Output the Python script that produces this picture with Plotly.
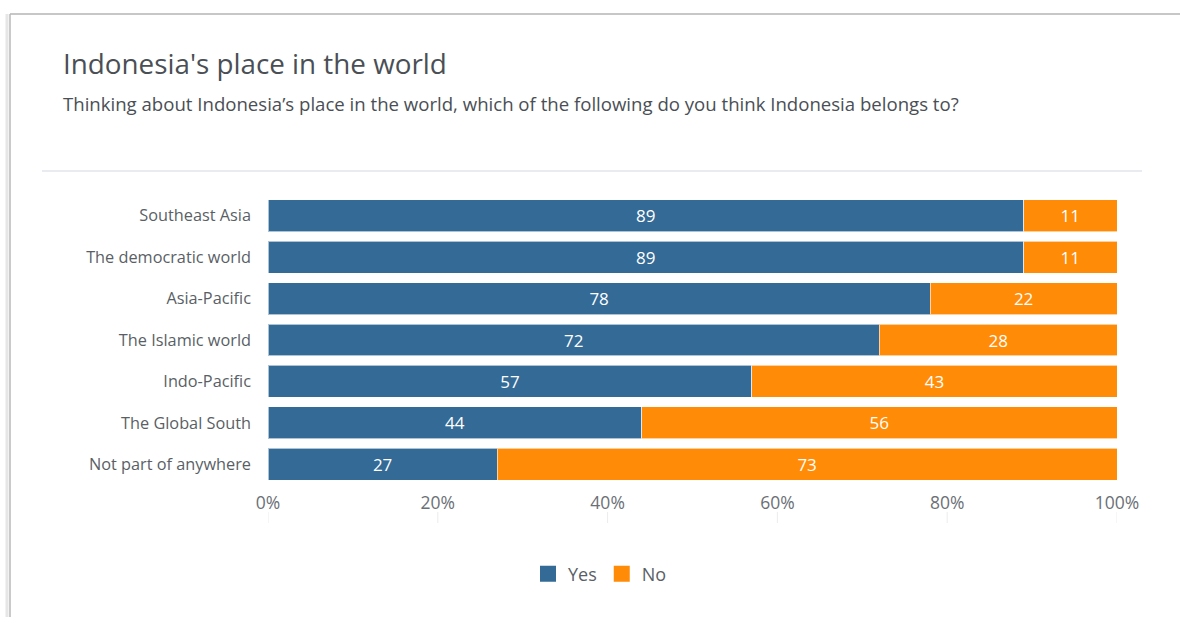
import plotly.graph_objects as go

# Survey responses (percent)
categories = [
    "Southeast Asia",
    "The democratic world",
    "Asia-Pacific",
    "The Islamic world",
    "Indo-Pacific",
    "The Global South",
    "Not part of anywhere",
]
yes_values = [89, 89, 78, 72, 57, 44, 27]
no_values = [11, 11, 22, 28, 43, 56, 73]
tick_values = [0, 20, 40, 60, 80, 100]
tick_labels = ["0%", "20%", "40%", "60%", "80%", "100%"]

YES_COLOR = "#336a96"
NO_COLOR = "#ff8b07"
FONT = "Open Sans"

W, H = 1180, 617
L, R, T, B = 268, 63, 195, 132
PW, PH = W - L - R, H - T - B


def px(xp):
    return (xp - L) / PW


def py(yp):
    return (H - B - yp) / PH


fig = go.Figure()
for name, vals, color in [("Yes", yes_values, YES_COLOR), ("No", no_values, NO_COLOR)]:
    fig.add_trace(go.Bar(
        y=categories, x=vals, name=name, orientation="h", showlegend=False,
        marker=dict(color=color, line=dict(color="rgba(255,255,255,0.6)", width=1)),
        text=[str(v) for v in vals], textposition="inside",
        insidetextanchor="middle",
        textfont=dict(color="white", size=17, family=FONT),
    ))
    # legend entry with a larger square swatch
    fig.add_trace(go.Scatter(
        x=[None], y=[None], mode="markers", name=name,
        marker=dict(symbol="square", size=18, color=color),
    ))

shapes = [
    # card frame: top and left edges with a soft shadow
    dict(type="line", xref="paper", yref="paper", x0=px(10), x1=px(1180),
         y0=py(14), y1=py(14), line=dict(color="#b4b4b4", width=1.5)),
    dict(type="line", xref="paper", yref="paper", x0=px(7), x1=px(7),
         y0=py(14), y1=py(617), line=dict(color="#e6e6e6", width=3)),
    dict(type="line", xref="paper", yref="paper", x0=px(10), x1=px(10),
         y0=py(14), y1=py(617), line=dict(color="#b8b8b8", width=1.5)),
    # separator under the header
    dict(type="line", xref="paper", yref="paper", x0=px(42), x1=px(1142),
         y0=py(171), y1=py(171), line=dict(color="#e2e6ea", width=1.5)),
]
# small tick stubs below the axis labels
for tv in tick_values:
    shapes.append(dict(type="line", xref="x", yref="paper", x0=tv, x1=tv,
                       y0=py(512), y1=py(523),
                       line=dict(color="#ececec", width=1)))

annotations = [
    dict(text="Indonesia's place in the world", xref="paper", yref="paper",
         x=px(61), y=py(63), xanchor="left", yanchor="middle", showarrow=False,
         font=dict(size=27.8, color="#4a4f55", family=FONT)),
    dict(text="Thinking about Indonesia\u2019s place in the world, which of the following do you think Indonesia belongs to?",
         xref="paper", yref="paper", x=px(61), y=py(103), xanchor="left",
         yanchor="middle", showarrow=False,
         font=dict(size=18.6, color="#4a4f55", family=FONT)),
]

fig.update_layout(
    width=W, height=H,
    margin=dict(l=L, r=R, t=T, b=B),
    barmode="stack", bargap=0.23,
    paper_bgcolor="white", plot_bgcolor="white",
    font=dict(family=FONT, color="#5a5f66"),
    showlegend=True,
    legend=dict(orientation="h", xref="paper", yref="paper",
                x=px(600), y=py(574), xanchor="center", yanchor="middle",
                font=dict(size=18, color="#5a5f66", family=FONT),
                itemwidth=30, traceorder="normal"),
    shapes=shapes,
    annotations=annotations,
)
fig.update_xaxes(range=[0, 100], tickmode="array", tickvals=tick_values,
                 ticktext=tick_labels,
                 showgrid=False, zeroline=False, showline=False,
                 tickfont=dict(size=17.5, color="#6b7076", family=FONT),
                 ticks="", ticklabelstandoff=5)
fig.update_yaxes(autorange="reversed", showgrid=False, zeroline=False,
                 showline=False, ticks="", ticklabelstandoff=16,
                 tickfont=dict(size=16.3, color="#5a5f66", family=FONT))

fig.write_html("out.html")
